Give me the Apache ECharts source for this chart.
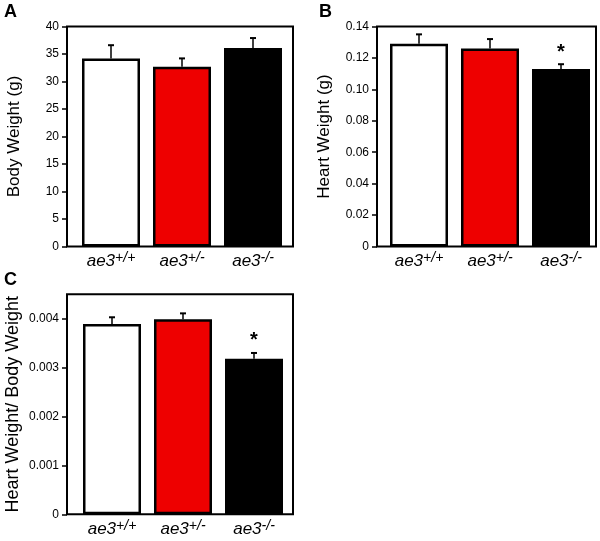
<!DOCTYPE html>
<html><head><meta charset="utf-8">
<script src="https://cdn.jsdelivr.net/npm/echarts@6/dist/echarts.min.js"></script>
<style>html,body{margin:0;padding:0;background:#fff}#c{width:600px;height:541px}</style>
</head><body><div id="c"></div>
<script>
// ---- data ----
var genotypeBase = ['ae3', 'ae3', 'ae3'];
var genotypeSup = ['+/+', '+/-', '-/-'];
var barColors = ['#ffffff', '#ee0000', '#000000'];
var bodyWeight = [34.2, 32.7, 36.1];
var bodyWeightErr = [2.4, 1.5, 1.8];
var bodyWeightSig = [false, false, false];
var heartWeight = [0.129, 0.126, 0.113];
var heartWeightErr = [0.006, 0.006, 0.003];
var heartWeightSig = [false, false, true];
var ratioHW_BW = [0.00389, 0.00399, 0.00318];
var ratioHW_BWErr = [0.00014, 0.00012, 0.00012];
var ratioHW_BWSig = [false, false, true];
var bodyTicks = {min: 0, max: 40, interval: 5};
var heartTicks = {min: 0, max: 0.14, interval: 0.02};
var ratioTicks = {min: 0, max: 0.0045, interval: 0.001};

var FONT = 'Liberation Sans, Arial, Helvetica, sans-serif';
var categories = genotypeBase.map(function (b, i) { return b + genotypeSup[i]; });

var panels = [
  {letter: 'A', name: 'Body Weight (g)', vals: bodyWeight, errs: bodyWeightErr, sig: bodyWeightSig, ticks: bodyTicks,
   frame: {left: 67, top: 26.5, width: 226, height: 220}, data: {left: 75.5, width: 213},
   fmt: function (v) { return String(v); }, nameSize: 17, nameGap: 44},
  {letter: 'B', name: 'Heart Weight (g)', vals: heartWeight, errs: heartWeightErr, sig: heartWeightSig, ticks: heartTicks,
   frame: {left: 377, top: 26.5, width: 219, height: 220}, data: {left: 383.5, width: 213},
   fmt: function (v) { return v === 0 ? '0' : v.toFixed(2); }, nameSize: 17, nameGap: 44},
  {letter: 'C', name: 'Heart Weight/ Body Weight', vals: ratioHW_BW, errs: ratioHW_BWErr, sig: ratioHW_BWSig, ticks: ratioTicks,
   frame: {left: 67, top: 294.3, width: 226, height: 220}, data: {left: 76.5, width: 213},
   fmt: function (v) { return v === 0 ? '0' : (Math.abs(v / 0.001 - Math.round(v / 0.001)) < 1e-6 ? v.toFixed(3) : ''); },
   nameSize: 18, nameGap: 45}
];

var option = {
  animation: false,
  backgroundColor: '#ffffff',
  title: [], grid: [], xAxis: [], yAxis: [], series: []
};
var letterPos = [{left: 4, top: 3}, {left: 319, top: 3}, {left: 4, top: 271}];

panels.forEach(function (p, k) {
  option.title.push({text: p.letter, left: letterPos[k].left, top: letterPos[k].top, padding: 0,
    textStyle: {fontFamily: FONT, fontWeight: 'bold', fontSize: 18, color: '#000'}});
  var gFrame = option.grid.length;
  option.grid.push({left: p.frame.left, top: p.frame.top, width: p.frame.width, height: p.frame.height,
    show: true, borderColor: '#000', borderWidth: 2, backgroundColor: 'transparent', containLabel: false});
  var gData = option.grid.length;
  option.grid.push({left: p.data.left, top: p.frame.top, width: p.data.width, height: p.frame.height, containLabel: false});
  option.xAxis.push({gridIndex: gFrame, type: 'value', show: false, min: 0, max: 1});
  option.yAxis.push({gridIndex: gFrame, type: 'value', min: p.ticks.min, max: p.ticks.max, interval: p.ticks.interval,
    axisLine: {show: false}, splitLine: {show: false},
    axisTick: {show: true, length: 5, lineStyle: {color: '#000', width: 1.5}},
    axisLabel: {show: true, margin: 8, color: '#000', fontFamily: FONT, fontSize: 12, formatter: p.fmt, showMaxLabel: k === 2 ? false : true},
    name: p.name, nameLocation: 'middle', nameGap: p.nameGap,
    nameTextStyle: {fontFamily: FONT, fontSize: p.nameSize, color: '#000'}});
  var xIdx = option.xAxis.length;
  option.xAxis.push({gridIndex: gData, type: 'category', data: categories,
    axisLine: {show: false}, axisTick: {show: false},
    axisLabel: {margin: 5, interval: 0,
      formatter: function (v, i) { return '{a|' + genotypeBase[i] + '}{s|' + genotypeSup[i] + '}'; },
      rich: {
        a: {fontFamily: FONT, fontStyle: 'italic', fontSize: 17, color: '#000', lineHeight: 20},
        s: {fontFamily: FONT, fontStyle: 'italic', fontSize: 14, color: '#000', lineHeight: 14, verticalAlign: 'top'}
      }}});
  var yIdx = option.yAxis.length;
  option.yAxis.push({gridIndex: gData, type: 'value', show: false, min: p.ticks.min, max: p.ticks.max, interval: p.ticks.interval, splitLine: {show: false}});
  option.series.push({type: 'bar', xAxisIndex: xIdx, yAxisIndex: yIdx, barWidth: 58,
    data: p.vals.map(function (v, i) { return {value: v, itemStyle: {color: barColors[i], borderColor: '#000', borderWidth: 2.5}}; }),
    z: 2});
  option.series.push({type: 'custom', xAxisIndex: xIdx, yAxisIndex: yIdx, z: 3,
    data: p.vals.map(function (v, i) { return [i, v, p.errs[i], p.sig[i] ? 1 : 0]; }),
    renderItem: function (params, api) {
      var x = api.value(0), v = api.value(1), e = api.value(2), sig = api.value(3);
      var base = api.coord([x, v]);
      var top = api.coord([x, v + e]);
      var cx = base[0];
      var children = [
        {type: 'line', shape: {x1: cx, y1: base[1], x2: cx, y2: top[1]}, style: {stroke: '#000', lineWidth: 1.5}},
        {type: 'line', shape: {x1: cx - 3, y1: top[1], x2: cx + 3, y2: top[1]}, style: {stroke: '#000', lineWidth: 2}}
      ];
      if (sig) {
        children.push({type: 'text', style: {text: '*', x: cx, y: top[1] - 2, textAlign: 'center', textVerticalAlign: 'bottom',
          font: 'bold 20px ' + FONT, fill: '#000'}});
      }
      return {type: 'group', children: children};
    }});
});

var chart = echarts.init(document.getElementById('c'), null, {renderer: 'canvas'});
chart.setOption(option);
</script></body></html>
